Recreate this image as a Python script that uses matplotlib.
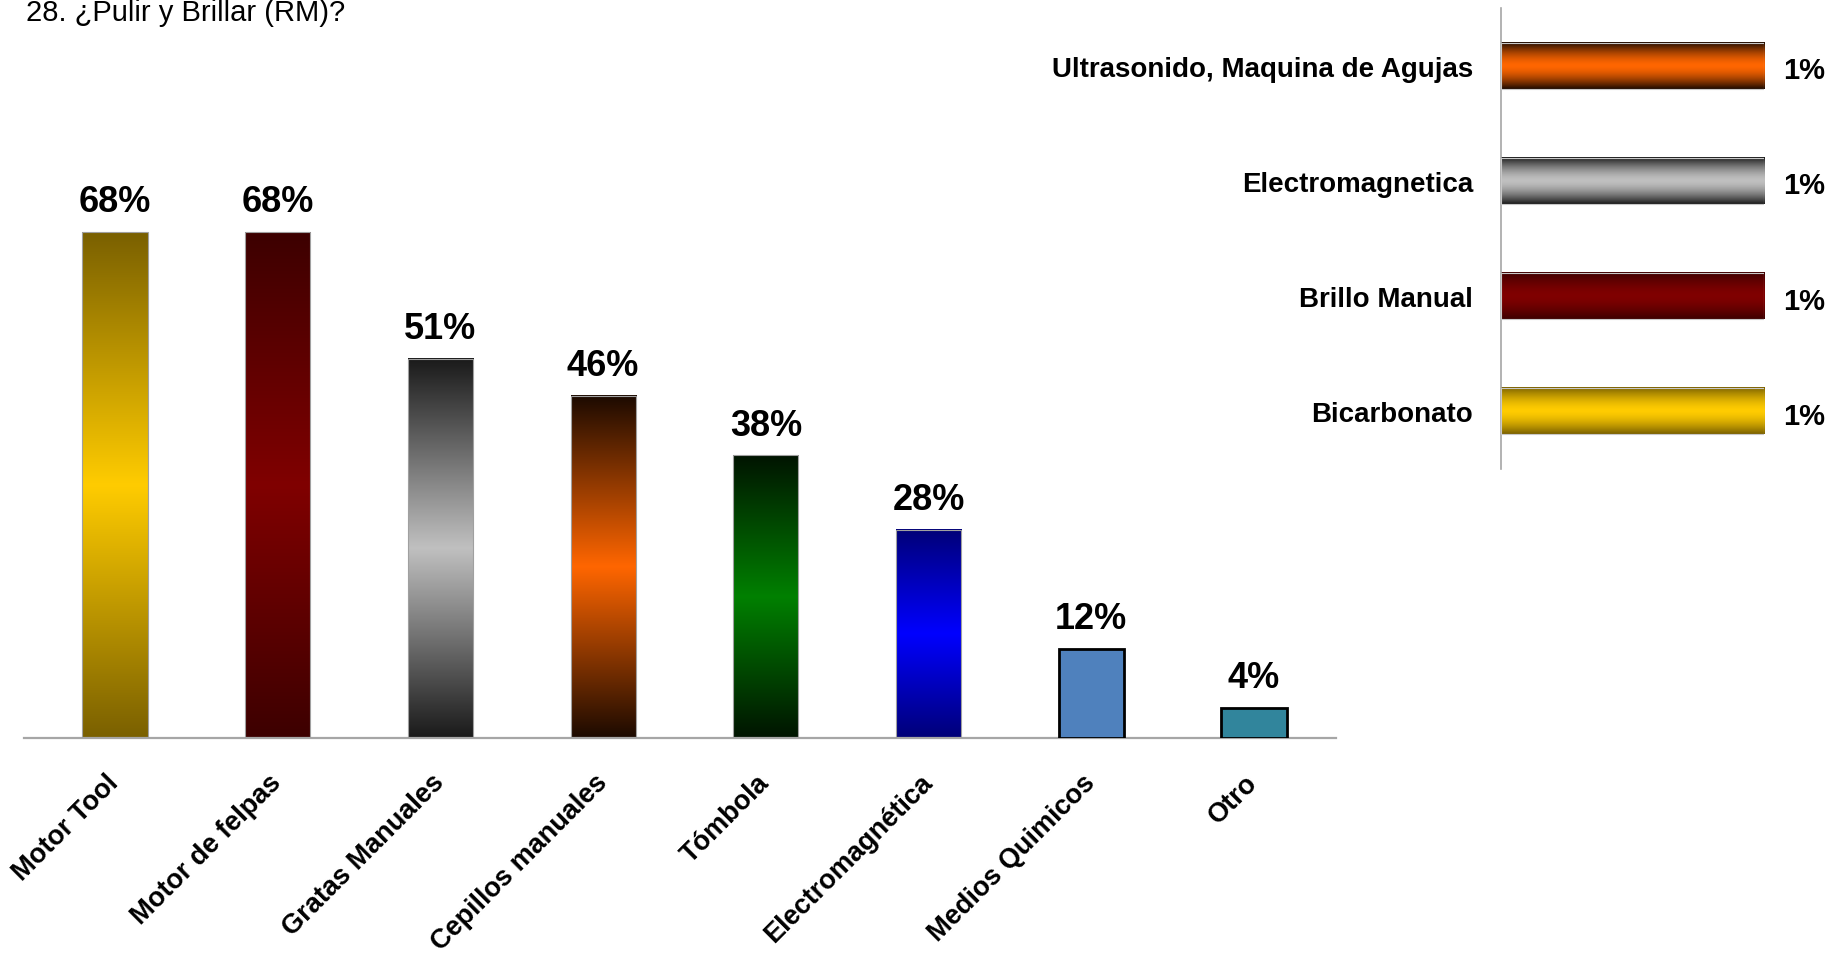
import numpy as np
import matplotlib
matplotlib.use("Agg")
import matplotlib.pyplot as plt
from matplotlib.colors import to_rgb

plt.rcParams['font.family'] = ['Liberation Sans', 'DejaVu Sans']

title = "28. ¿Pulir y Brillar (RM)?"

categories = ["Motor Tool", "Motor de felpas", "Gratas Manuales", "Cepillos manuales",
              "Tómbola", "Electromagnética", "Medios Quimicos", "Otro"]
values = [68, 68, 51, 46, 38, 28, 12, 4]
# dark edge colour / bright middle colour of the shaded bars (None = flat fill)
bar_dark = ["#7a6000", "#3d0000", "#1a1a1a", "#1c0a00", "#001400", "#000078", None, None]
bar_mid = ["#ffcc00", "#800000", "#c0c0c0", "#ff6600", "#008000", "#0000ff", "#4f81bd", "#31859c"]

other_categories = ["Bicarbonato", "Brillo Manual", "Electromagnetica",
                    "Ultrasonido, Maquina de Agujas"]
other_values = [1, 1, 1, 1]
other_dark = ["#7a6000", "#3d0000", "#1a1a1a", "#1c0a00"]
other_mid = ["#ffcc00", "#800000", "#c0c0c0", "#ff6600"]


def shade(ax, rect, dark, mid, power=1.0):
    """Paint a dark-bright-dark gradient (along y) inside a bar rectangle."""
    t = np.abs(np.linspace(-1, 1, 256)) ** power
    d = np.array(to_rgb(dark))
    m = np.array(to_rgb(mid))
    img = m[None, :] * (1 - t[:, None]) + d[None, :] * t[:, None]
    x0, y0 = rect.get_x(), rect.get_y()
    ax.imshow(img[:, None, :], extent=[x0, x0 + rect.get_width(), y0, y0 + rect.get_height()],
              aspect="auto", origin="lower", interpolation="bilinear", zorder=2)


W, H = 1826, 954
fig = plt.figure(figsize=(W / 100, H / 100), dpi=100)

# ---- main column chart
ax = fig.add_axes([24 / W, (H - 739) / H, 1312 / W, 595 / H])
x = np.arange(len(categories))
faces = ["none" if d else m for d, m in zip(bar_dark, bar_mid)]
edges = ["#a0a0a0" if d else "black" for d in bar_dark]
lws = [0.8 if d else 2.0 for d in bar_dark]
bars = ax.bar(x, values, width=0.4, color=faces, edgecolor=edges, linewidth=lws, zorder=3)
for rect, d, m, v in zip(bars, bar_dark, bar_mid, values):
    if d:
        shade(ax, rect, d, m)
    ax.annotate(f"{v}%", (rect.get_x() + rect.get_width() / 2, v), xytext=(0, 15),
                textcoords="offset points", ha="center", va="baseline",
                fontsize=26, fontweight="bold")

ax.set_xlim(-0.559, 7.504)
ax.set_ylim(0, 80)
for s in ["top", "right", "left"]:
    ax.spines[s].set_visible(False)
ax.spines["bottom"].set_color("#a6a6a6")
ax.spines["bottom"].set_linewidth(1.6)
ax.set_yticks([])
ax.set_xticks(x)
ax.set_xticklabels(categories, rotation=45, ha="right", va="center",
                   rotation_mode="anchor", fontsize=19.5, fontweight="bold")
ax.tick_params(axis="x", length=0, pad=29)

# ---- small horizontal chart (top right)
ax2 = fig.add_axes([1501 / W, (H - 470) / H, 263 / W, 461 / H])
y = np.arange(len(other_categories))
hbars = ax2.barh(y, other_values, height=0.4, color="none", edgecolor="#c8c8c8",
                 linewidth=0.8, zorder=3)
for rect, d, m, v in zip(hbars, other_dark, other_mid, other_values):
    shade(ax2, rect, d, m, power=1.6)
    ax2.annotate(f"{v}%", (v, rect.get_y() + rect.get_height() / 2), xytext=(13.5, -9),
                 textcoords="offset points", ha="left", va="baseline",
                 fontsize=21, fontweight="bold", annotation_clip=False)

ax2.set_xlim(0, 1)
ax2.set_ylim(-0.5, 3.5)
for s in ["top", "right", "bottom"]:
    ax2.spines[s].set_visible(False)
ax2.spines["left"].set_color("#a6a6a6")
ax2.spines["left"].set_linewidth(1.2)
ax2.set_xticks([])
ax2.set_yticks(y)
ax2.set_yticklabels(other_categories, fontsize=20, fontweight="bold")
ax2.tick_params(axis="y", length=0, pad=20)

fig.text(26 / W, 1 - 21 / H, title, fontsize=21, ha="left", va="baseline")

fig.savefig("out.png", dpi=100)
